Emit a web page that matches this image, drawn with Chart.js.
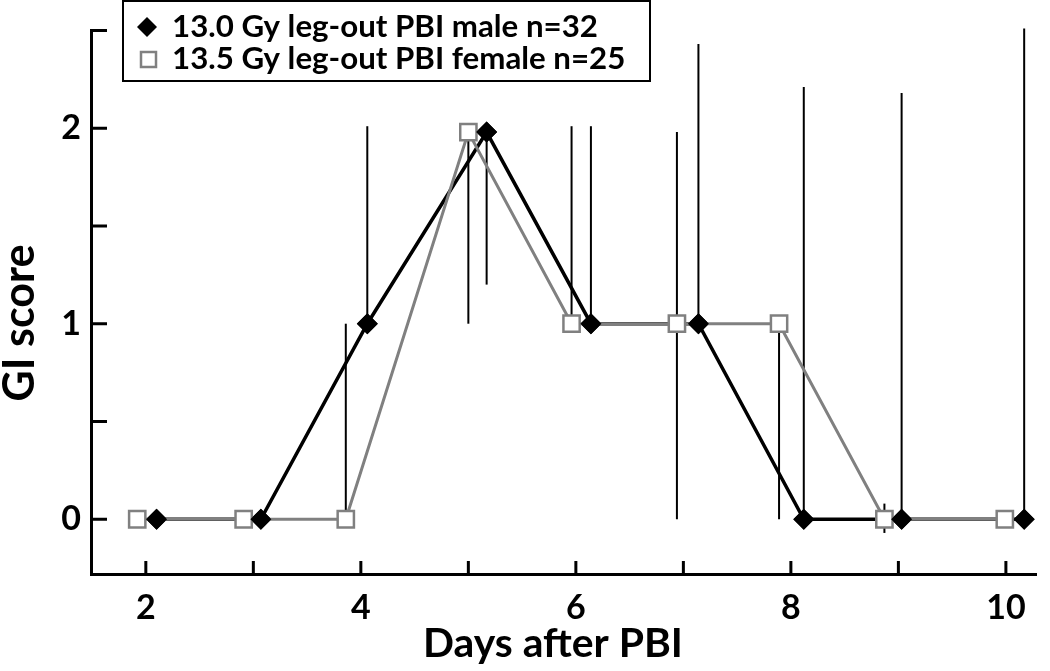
<!DOCTYPE html>
<html><head><meta charset="utf-8">
<script src="https://cdn.jsdelivr.net/npm/chart.js@4.4.0/dist/chart.umd.min.js"></script>
<style>html,body{margin:0;padding:0;background:#fff;overflow:hidden}#wrap{width:1050px;height:671px;position:relative}</style>
</head><body><div id="wrap"><canvas id="c" width="1050" height="671"></canvas></div>
<script>
const maleLabel = '13.0 Gy leg-out PBI male n=32';
const femaleLabel = '13.5 Gy leg-out PBI female n=25';
const maleDays = [2.10, 3.07, 4.06, 5.17, 6.14, 7.14, 8.12, 9.03, 10.17];
const maleScore = [0, 0, 1, 1.98, 1, 1, 0, 0, 0];
const maleErrLow = [0, 0, 1, 1.2, 1, 1, 0, 0, 0];
const maleErrHigh = [0, 0, 2.01, 1.98, 2.01, 2.43, 2.21, 2.18, 2.51];
const femaleDays = [1.92, 2.91, 3.86, 5.00, 5.96, 6.94, 7.89, 8.87, 9.99];
const femaleScore = [0, 0, 0, 1.98, 1, 1, 1, 0, 0];
const femaleErrLow = [0, 0, 0, 1.0, 1, 0, 0, -0.07, 0];
const femaleErrHigh = [0, 0, 1, 1.98, 2.01, 1.98, 1, 0.08, 0];
const xTicks = [2, 3, 4, 5, 6, 7, 8, 9, 10];
const xTickLabels = ['2', '', '4', '', '6', '', '8', '', '10'];
const yTicks = [0, 0.5, 1, 1.5, 2, 2.5];
const yTickLabels = ['0', '', '1', '', '2', ''];
const xTitle = 'Days after PBI';
const yTitle = 'GI score';

const FONT = 'Lato, "DejaVu Sans", sans-serif';
const GREY = '#808080';

function pts(xs, ys) { return xs.map((x, i) => ({x: x, y: ys[i]})); }

function fitFont(ctx, text, target, base) {
  ctx.font = 'bold ' + base + 'px ' + FONT;
  const w = ctx.measureText(text).width;
  return base * target / w;
}

const errorBars = {
  id: 'errorBars',
  beforeDatasetsDraw(chart) {
    const ctx = chart.ctx, xs = chart.scales.x, ys = chart.scales.y;
    const sets = [[maleDays, maleErrLow, maleErrHigh], [femaleDays, femaleErrLow, femaleErrHigh]];
    ctx.save();
    ctx.strokeStyle = '#000';
    ctx.lineWidth = 2;
    sets.forEach(([d, lo, hi]) => {
      d.forEach((x, i) => {
        if (hi[i] <= lo[i]) return;
        const px = xs.getPixelForValue(x);
        ctx.beginPath();
        ctx.moveTo(px, ys.getPixelForValue(lo[i]));
        ctx.lineTo(px, ys.getPixelForValue(hi[i]));
        ctx.stroke();
      });
    });
    const ca = chart.chartArea;
    ctx.lineWidth = 3;
    ctx.beginPath();
    xTicks.forEach(v => { const p = xs.getPixelForValue(v); ctx.moveTo(p, ca.bottom); ctx.lineTo(p, ca.bottom - 13); });
    yTicks.forEach(v => { const p = ys.getPixelForValue(v); ctx.moveTo(ca.left, p); ctx.lineTo(ca.left + 16, p); });
    ctx.stroke();
    ctx.restore();
  },
  afterDatasetsDraw(chart) {
    const meta = chart.getDatasetMeta(1);
    meta.data.forEach(p => p.draw(chart.ctx, chart.chartArea));
  },
  afterDraw(chart) {
    const ctx = chart.ctx;
    ctx.save();
    ctx.fillStyle = '#fff';
    ctx.fillRect(123, 1, 527, 80);
    ctx.strokeStyle = '#000';
    ctx.lineWidth = 2;
    ctx.strokeRect(123, 1, 527, 80);
    ctx.fillStyle = '#000';
    ctx.beginPath();
    ctx.moveTo(147, 17); ctx.lineTo(157, 27); ctx.lineTo(147, 37); ctx.lineTo(137, 27); ctx.closePath();
    ctx.fill();
    ctx.fillStyle = '#fff';
    ctx.strokeStyle = GREY;
    ctx.lineWidth = 2.5;
    ctx.fillRect(141, 52, 15, 15);
    ctx.strokeRect(141, 52, 15, 15);
    const fs = fitFont(ctx, maleLabel, 426, 30);
    ctx.font = 'bold ' + fs + 'px ' + FONT;
    ctx.fillStyle = '#000';
    ctx.textAlign = 'left';
    ctx.textBaseline = 'alphabetic';
    ctx.fillText(maleLabel, 172, 37);
    ctx.fillText(femaleLabel, 172, 69);
    const fx = fitFont(ctx, xTitle, 260, 40);
    ctx.font = 'bold ' + fx + 'px ' + FONT;
    ctx.textAlign = 'center';
    ctx.fillText(xTitle, 553, 657);
    const fy = fitFont(ctx, yTitle, 157, 40);
    ctx.font = 'bold ' + fy + 'px ' + FONT;
    ctx.translate(34, 323);
    ctx.rotate(-Math.PI / 2);
    ctx.fillText(yTitle, 0, 0);
    ctx.restore();
  }
};

new Chart(document.getElementById('c'), {
  type: 'line',
  data: {
    datasets: [
      {
        label: femaleLabel,
        data: pts(femaleDays, femaleScore),
        borderColor: GREY,
        borderWidth: 3,
        pointStyle: 'rect',
        pointRadius: 11.5,
        pointBorderWidth: 2.5,
        pointBorderColor: GREY,
        pointBackgroundColor: '#fff',
        tension: 0,
        fill: false
      },
      {
        label: maleLabel,
        data: pts(maleDays, maleScore),
        borderColor: '#000',
        borderWidth: 3.5,
        pointStyle: 'rectRot',
        pointRadius: 10.5,
        pointBorderWidth: 0,
        pointBackgroundColor: '#000',
        tension: 0,
        fill: false
      }
    ]
  },
  options: {
    responsive: false,
    animation: false,
    devicePixelRatio: 1,
    layout: {padding: {top: 23, right: 0, left: 0, bottom: 0}},
    plugins: {legend: {display: false}, tooltip: {enabled: false}},
    scales: {
      x: {
        type: 'linear',
        min: 1.49,
        max: 10.28,
        afterBuildTicks: s => { s.ticks = xTicks.map(v => ({value: v})); },
        afterFit: s => { s.height = 97; },
        grid: {display: false, drawTicks: false},
        border: {display: true, width: 3, color: '#000'},
        ticks: {
          autoSkip: false, maxRotation: 0, padding: 14, color: '#000',
          font: {family: FONT, size: 34, weight: 'bold'},
          callback: v => xTickLabels[xTicks.indexOf(v)]
        }
      },
      y: {
        type: 'linear',
        min: -0.28,
        max: 2.5,
        afterBuildTicks: s => { s.ticks = yTicks.map(v => ({value: v})); },
        afterFit: s => { s.width = 91; },
        grid: {display: false, drawTicks: false},
        border: {display: true, width: 3, color: '#000'},
        ticks: {
          autoSkip: false, padding: 10, color: '#000',
          font: {family: FONT, size: 34, weight: 'bold'},
          callback: v => yTickLabels[yTicks.indexOf(v)]
        }
      }
    }
  },
  plugins: [errorBars]
});
</script>
</body></html>
